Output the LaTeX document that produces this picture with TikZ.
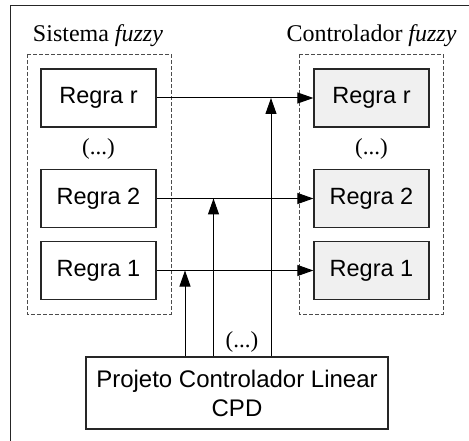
\documentclass[tikz,border=0pt]{standalone}
\usepackage{fontspec}
\setmainfont{Liberation Serif}
\newfontfamily\boxfont{Liberation Sans}
\usetikzlibrary{arrows.meta}
\begin{document}
\begin{tikzpicture}[x=1pt,y=-1pt,
  rulebox/.style={draw=black!85, line width=1.2pt, minimum width=115pt,
    minimum height=58pt, inner sep=0pt,
    font=\boxfont\fontsize{23.5}{28}\selectfont},
  ctrlbox/.style={rulebox, fill=black!6},
  group/.style={draw=black!70, line width=0.8pt, dash pattern=on 4pt off 2pt},
  title/.style={anchor=base, font=\fontsize{24}{28}\selectfont},
  dots/.style={font=\fontsize{23}{28}\selectfont, inner sep=0pt},
  arr/.style={draw=black, line width=1pt, -{Triangle[length=16pt,width=11pt]}},
  wire/.style={draw=black, line width=1pt}]
\useasboundingbox (0,0) rectangle (469,441);
\clip (0,0) rectangle (469,441);

% outer frame
\draw[line width=1pt, draw=black!85] (10,6) rectangle (490,470);

% groups
\draw[group] (27,54) rectangle (171,314);
\draw[group] (299,54) rectangle (443,314);
\node[title] (t1) at (98,42) {Sistema \textit{fuzzy}};
\node[title] (t2) at (371.5,42) {Controlador \textit{fuzzy}};

% fuzzy system rules
\node[rulebox] (L3) at (98.5,98) {Regra r};
\node[dots] (d1) at (98.5,149) {(...)};
\node[rulebox] (L2) at (98.5,198.5) {Regra 2};
\node[rulebox] (L1) at (98.5,270.5) {Regra 1};

% fuzzy controller rules
\node[ctrlbox] (R3) at (371.5,98) {Regra r};
\node[dots] (d2) at (371.5,149) {(...)};
\node[ctrlbox] (R2) at (371.5,198.5) {Regra 2};
\node[ctrlbox] (R1) at (371.5,270.5) {Regra 1};

% linear controller design block
\node[rulebox, minimum width=302pt, minimum height=72pt, align=center,
  font=\boxfont\fontsize{24}{29}\selectfont] (B) at (237,393)
  {Projeto Controlador Linear\\CPD};
\node[dots] (d3) at (242,342) {(...)};

% horizontal links
\draw[arr] (L3.east) -- (R3.west);
\draw[arr] (L2.east) -- (R2.west);
\draw[arr] (L1.east) -- (R1.west);

% vertical links from the design block
\coordinate (v1) at (185,0);
\coordinate (v2) at (213.5,0);
\coordinate (v3) at (271,0);
\draw[arr] (B.north -| v1) -- (v1 |- L1.east);
\draw[arr] (B.north -| v2) -- (v2 |- L2.east);
\draw[arr] (B.north -| v3) -- (v3 |- L3.east);
\end{tikzpicture}
\end{document}
